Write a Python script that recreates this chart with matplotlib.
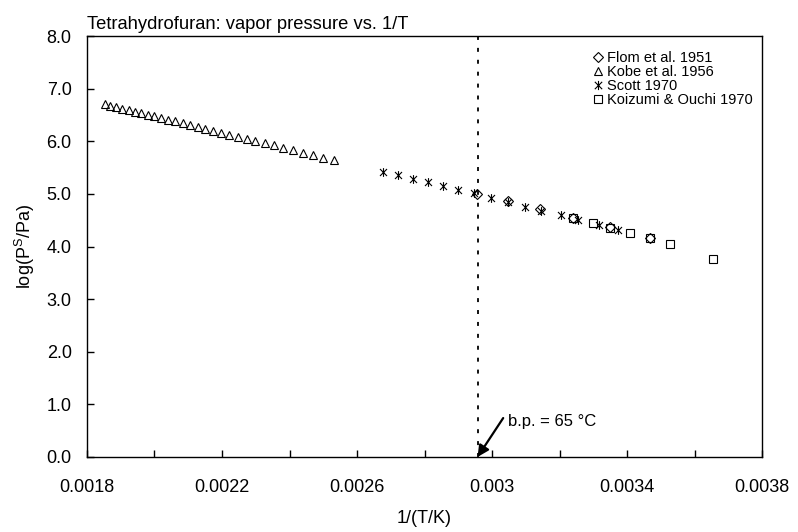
import matplotlib
matplotlib.use("Agg")
import matplotlib.pyplot as plt
from matplotlib.path import Path

plt.rcParams['font.family'] = ['Liberation Sans', 'DejaVu Sans']

# Kobe et al. 1956 (triangles)
kobe_x = [0.001852, 0.001869, 0.001887, 0.001905, 0.001923, 0.001942, 0.001961,
          0.001980, 0.002000, 0.002020, 0.002041, 0.002062, 0.002083, 0.002105,
          0.002128, 0.002151, 0.002174, 0.002198, 0.002222, 0.002247, 0.002273,
          0.002299, 0.002326, 0.002353, 0.002381, 0.002410, 0.002439, 0.002469,
          0.002500, 0.002532]
kobe_y = [6.700, 6.675, 6.650, 6.622, 6.594, 6.565, 6.535, 6.506, 6.475, 6.444,
          6.411, 6.378, 6.345, 6.311, 6.275, 6.239, 6.203, 6.165, 6.128, 6.088,
          6.047, 6.006, 5.964, 5.921, 5.877, 5.832, 5.786, 5.739, 5.690, 5.635]

# Scott 1970 (stars)
scott_x = [0.002677, 0.002721, 0.002766, 0.002810, 0.002855, 0.002899, 0.002947,
           0.002997, 0.003047, 0.003098, 0.003145, 0.003204, 0.003255, 0.003317,
           0.003373]
scott_y = [5.42, 5.35, 5.29, 5.22, 5.15, 5.08, 5.01, 4.93, 4.84, 4.76, 4.68,
           4.59, 4.50, 4.41, 4.31]

# Flom et al. 1951 (diamonds)
flom_x = [0.002956, 0.003047, 0.003142, 0.003240, 0.003350, 0.003468]
flom_y = [5.00, 4.86, 4.71, 4.55, 4.37, 4.16]

# Koizumi & Ouchi 1970 (squares)
koiz_x = [0.003240, 0.003299, 0.003350, 0.003409, 0.003468, 0.003527, 0.003655]
koiz_y = [4.55, 4.45, 4.36, 4.26, 4.16, 4.05, 3.77]

bp_x = 0.002957  # 1/(338.15 K)

x_ticks = [0.0018, 0.0020, 0.0022, 0.0024, 0.0026, 0.0028, 0.0030, 0.0032,
           0.0034, 0.0036, 0.0038]
x_labels = ['0.0018', '', '0.0022', '', '0.0026', '', '0.003', '', '0.0034', '', '0.0038']
y_ticks = [0, 1, 2, 3, 4, 5, 6, 7, 8]

# asterisk marker: x plus vertical bar
star = Path([(0, -1), (0, 1), (-0.8, -0.8), (0.8, 0.8), (-0.8, 0.8), (0.8, -0.8)],
            [Path.MOVETO, Path.LINETO] * 3)

fig = plt.figure(figsize=(7.98, 5.32), dpi=100)
ax = fig.add_axes([0.109, 0.141, 0.846, 0.7913])

mk = dict(linestyle='none', mfc='none', mec='black', mew=0.8)
ax.plot(flom_x, flom_y, marker='D', markersize=5, label='Flom et al. 1951', **mk)
ax.plot(kobe_x, kobe_y, marker='^', markersize=5.5, label='Kobe et al. 1956', **mk)
ax.plot(scott_x, scott_y, marker=star, markersize=6.3, label='Scott 1970', **mk)
ax.plot(koiz_x, koiz_y, marker='s', markersize=5.8, label='Koizumi & Ouchi 1970', **mk)

ax.plot([bp_x, bp_x], [0, 8], color='black', linewidth=1.3,
        linestyle=(0, (2.2, 4.4)))
ax.annotate('', xy=(bp_x, 0), xytext=(0.003033, 0.74),
            arrowprops=dict(arrowstyle='-|>', color='black', lw=1.6,
                            mutation_scale=17, shrinkA=0, shrinkB=0))
ax.text(0.003047, 0.68, 'b.p. = 65 °C', fontsize=12, ha='left', va='center')

ax.set_xlim(0.0018, 0.0038)
ax.set_ylim(0, 8)
ax.set_xticks(x_ticks)
ax.set_xticklabels(x_labels)
ax.set_yticks(y_ticks)
ax.set_yticklabels(['%.1f' % v for v in y_ticks])
ax.tick_params(direction='in', length=5, width=1.0, labelsize=13)
ax.tick_params(axis='x', pad=16)
ax.tick_params(axis='y', pad=11)
for s in ax.spines.values():
    s.set_linewidth(1.0)

ax.set_xlabel('1/(T/K)', fontsize=13, labelpad=10)
ax.set_ylabel('log(P$^\\mathregular{S}$/Pa)', fontsize=13, labelpad=7)
ax.set_title('Tetrahydrofuran: vapor pressure vs. 1/T', loc='left',
             fontsize=13.2, pad=5)

ax.legend(loc='upper left', bbox_to_anchor=(0.749, 0.965), frameon=False,
          fontsize=10.5, handlelength=0.7, handletextpad=0.3, labelspacing=0.0,
          borderaxespad=0, borderpad=0, markerscale=1.05)

fig.savefig('out.png', dpi=100)
